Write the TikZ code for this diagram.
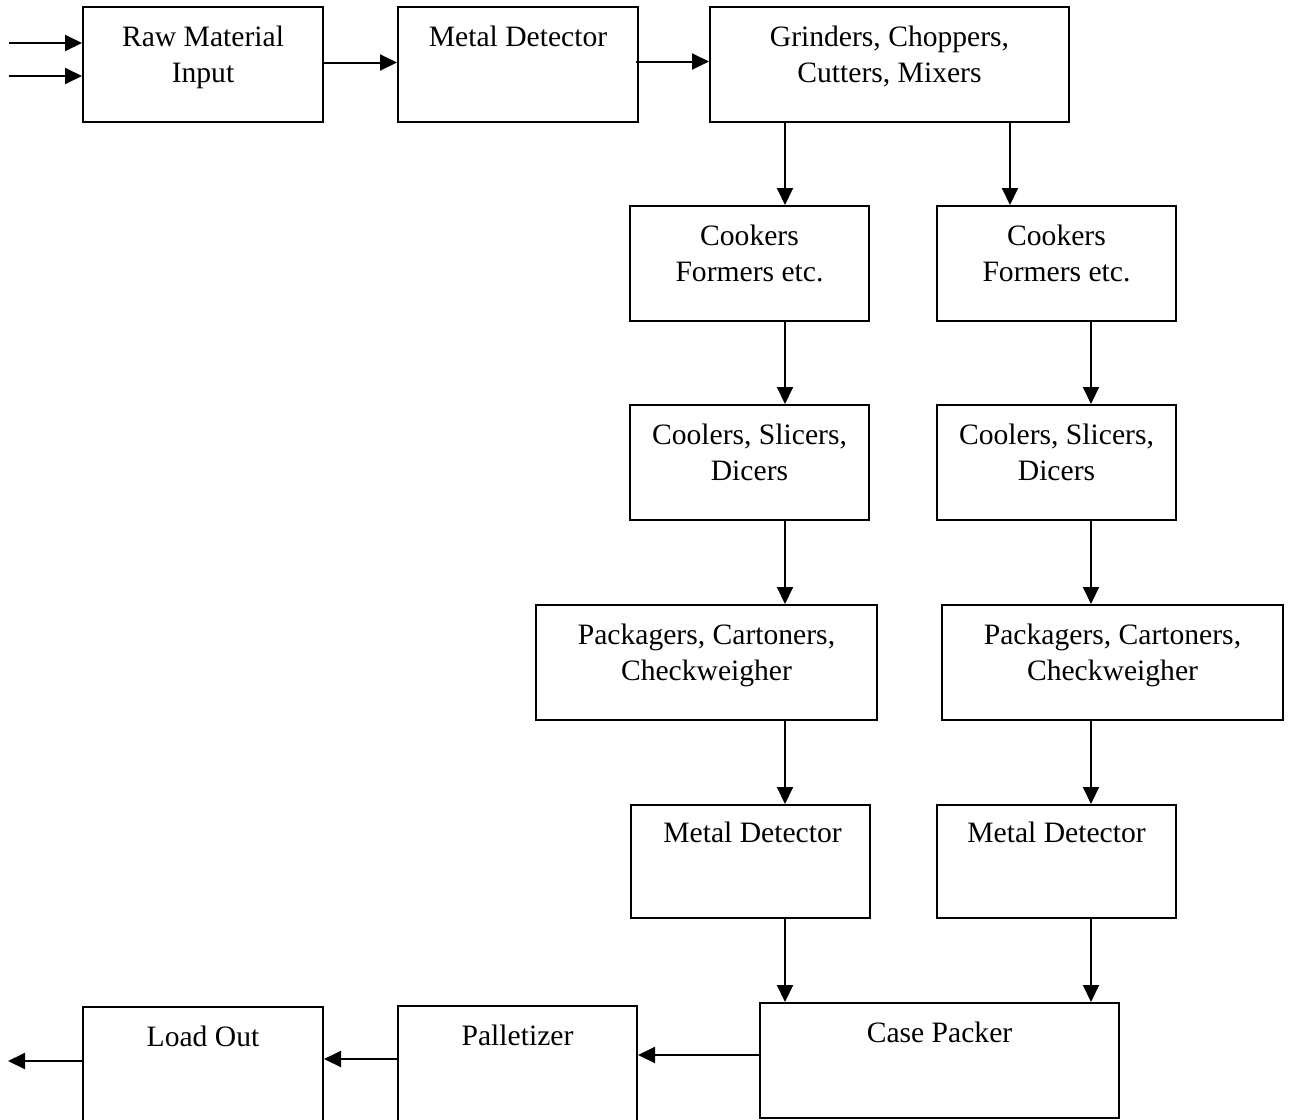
\documentclass[tikz,border=0pt]{standalone}
\usepackage{fontspec}
\setmainfont{Liberation Serif}
\usetikzlibrary{arrows.meta}
\newcommand\mybx[5]{\node[box, minimum width={(#4-#2)*0.5pt}, minimum height={(#5-#3)*0.5pt}] (#1) at ({(#2+#4)/2},{(#3+#5)/2}) {};}
\begin{document}
\begin{tikzpicture}[x=0.5pt,y=-0.5pt,
  box/.style={draw, line width=1pt, inner sep=0pt},
  lbl/.style={font=\fontsize{14.8pt}{18pt}\selectfont, align=center, anchor=north, inner sep=0pt, execute at begin node=\strut},
  arr/.style={line width=1pt, -{Triangle[length=8.5pt,width=8pt]}}]
\clip (0,0) rectangle (1292,1120);
\fill[white] (0,0) rectangle (1292,1120);
% boxes
\mybx{rmi}{83}{7}{323}{122}
\mybx{mdt}{398}{7}{638}{122}
\mybx{grind}{710}{7}{1069}{122}
\mybx{cookL}{630}{206}{869}{321}
\mybx{cookR}{937}{206}{1176}{321}
\mybx{coolL}{630}{405}{869}{520}
\mybx{coolR}{937}{405}{1176}{520}
\mybx{packL}{536}{605}{877}{720}
\mybx{packR}{942}{605}{1283}{720}
\mybx{mdL}{631}{805}{870}{918}
\mybx{mdR}{937}{805}{1176}{918}
\mybx{case}{760}{1003}{1119}{1118}
\mybx{pal}{398}{1006}{637}{1135}
\mybx{load}{83}{1007}{323}{1135}
% labels
\node[lbl] at ([yshift=-9.9pt]rmi.north) {Raw Material\\Input};
\node[lbl] at ([yshift=-7.4pt]mdt.north) {Metal Detector};
\node[lbl] at ([yshift=-9.9pt]grind.north) {Grinders, Choppers,\\Cutters, Mixers};
\node[lbl] at ([yshift=-9.9pt]cookL.north) {Cookers\\Formers etc.};
\node[lbl] at ([yshift=-9.9pt]cookR.north) {Cookers\\Formers etc.};
\node[lbl] at ([yshift=-9.9pt]coolL.north) {Coolers, Slicers,\\Dicers};
\node[lbl] at ([yshift=-9.9pt]coolR.north) {Coolers, Slicers,\\Dicers};
\node[lbl] at ([yshift=-9.9pt]packL.north) {Packagers, Cartoners,\\Checkweigher};
\node[lbl] at ([yshift=-9.9pt]packR.north) {Packagers, Cartoners,\\Checkweigher};
\node[lbl] at ([xshift=1pt,yshift=-6.4pt]mdL.north) {Metal Detector};
\node[lbl] at ([yshift=-6.4pt]mdR.north) {Metal Detector};
\node[lbl] at ([yshift=-7.4pt]case.north) {Case Packer};
\node[lbl] at ([yshift=-7.4pt]pal.north) {Palletizer};
\node[lbl] at ([yshift=-7.4pt]load.north) {Load Out};
% column coordinates
\coordinate (colL) at (785,0);
\coordinate (colG) at (1010,0);
\coordinate (colR) at (1091,0);
\coordinate (in1) at (9,43);
\coordinate (in2) at (9,76);
\coordinate (out) at (8,1061);
% connectors
\draw[arr] (in1) -- (in1 -| rmi.west);
\draw[arr] (in2) -- (in2 -| rmi.west);
\draw[arr] ([yshift=1pt]rmi.east) -- ([yshift=1pt]mdt.west);
\draw[arr] ([xshift=-1.5pt,yshift=1.5pt]mdt.east) -- ([yshift=1.5pt]grind.west);
\draw[arr] (grind.south -| colL) -- (cookL.north -| colL);
\draw[arr] (grind.south -| colG) -- (cookR.north -| colG);
\draw[arr] (cookL.south -| colL) -- (coolL.north -| colL);
\draw[arr] (cookR.south -| colR) -- (coolR.north -| colR);
\draw[arr] (coolL.south -| colL) -- (packL.north -| colL);
\draw[arr] (coolR.south -| colR) -- (packR.north -| colR);
\draw[arr] (packL.south -| colL) -- (mdL.north -| colL);
\draw[arr] (packR.south -| colR) -- (mdR.north -| colR);
\draw[arr] (mdL.south -| colL) -- (case.north -| colL);
\draw[arr] (mdR.south -| colR) -- (case.north -| colR);
\draw[arr] ([yshift=2.75pt]case.west) -- ([yshift=2.75pt]case.west -| pal.east);
\draw[arr] (pal.west |- 0,1059) -- (load.east |- 0,1059);
\draw[arr] (load.west |- out) -- (out);
\end{tikzpicture}
\end{document}
